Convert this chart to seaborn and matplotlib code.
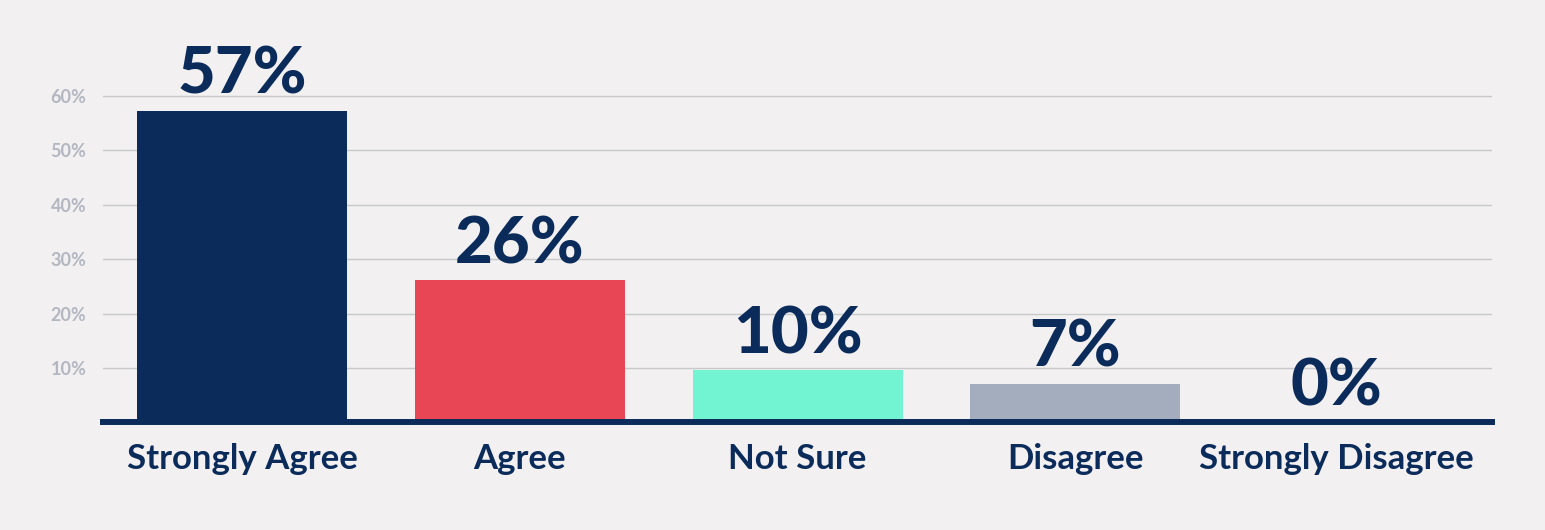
import matplotlib
matplotlib.use("Agg")
import matplotlib.pyplot as plt
import matplotlib.transforms as mtransforms
import pandas as pd
import seaborn as sns

CATEGORIES = ["Strongly Agree", "Agree", "Not Sure", "Disagree", "Strongly Disagree"]
HEIGHTS    = [57.2, 26.1, 9.6, 7.1, 0.0]
LABELS     = ["57%", "26%", "10%", "7%", "0%"]
COLORS     = ["#0b2b5a", "#e84555", "#72f4d2", "#a3adbd", "#0b2b5a"]
YTICKS     = [10, 20, 30, 40, 50, 60]

NAVY = "#0b2b5a"
BG   = "#f2f0f1"

sns.set_theme(style="white")
plt.rcParams["font.family"] = ["Lato", "DejaVu Sans"]

df = pd.DataFrame({"answer": CATEGORIES, "share": HEIGHTS})

fig = plt.figure(figsize=(15.45, 5.30), dpi=100, facecolor=BG)
ax = fig.add_axes([0.0667, 0.203, 0.899, 0.637])
ax.set_facecolor(BG)

sns.barplot(data=df, x="answer", y="share", hue="answer", order=CATEGORIES,
            palette=dict(zip(CATEGORIES, COLORS)), width=0.756, legend=False,
            saturation=1, linewidth=0, ax=ax, zorder=3)

ax.set_xlim(-0.5, 4.5)
ax.set_ylim(0, 62)
ax.set_yticks(YTICKS)
ax.set_yticklabels([f"{t}%" for t in YTICKS], fontsize=13, fontweight="bold", color="#b3b7c1")
ax.yaxis.grid(True, color="#c9c9cc", linewidth=1.0, zorder=0)
ax.tick_params(axis="y", length=0, pad=12)
ax.tick_params(axis="x", length=0, pad=15)
ax.set_xlabel("")
ax.set_ylabel("")

for side in ["left", "right", "top"]:
    ax.spines[side].set_visible(False)
ax.spines["bottom"].set_color(NAVY)
ax.spines["bottom"].set_linewidth(4.3)
ax.spines["bottom"].set_zorder(4)

ax.set_xticks(range(len(CATEGORIES)))
ax.set_xticklabels(CATEGORIES, fontsize=25, fontweight="bold", color=NAVY)

# last label sits a bit left of its slot in the original
shift = mtransforms.ScaledTranslation(-17 / 100, 0, fig.dpi_scale_trans)
lbl = ax.get_xticklabels()[-1]
lbl.set_transform(lbl.get_transform() + shift)

for i, (h, txt) in enumerate(zip(HEIGHTS, LABELS)):
    tr = ax.transData
    if i == len(HEIGHTS) - 1:
        tr = tr + shift
    ax.annotate(txt, xy=(i, h), xytext=(0, 6), textcoords="offset pixels",
                xycoords=tr, ha="center", va="bottom", fontsize=47,
                fontweight="black", color=NAVY, annotation_clip=False, zorder=5)

fig.savefig("out.png", dpi=100, facecolor=BG)
